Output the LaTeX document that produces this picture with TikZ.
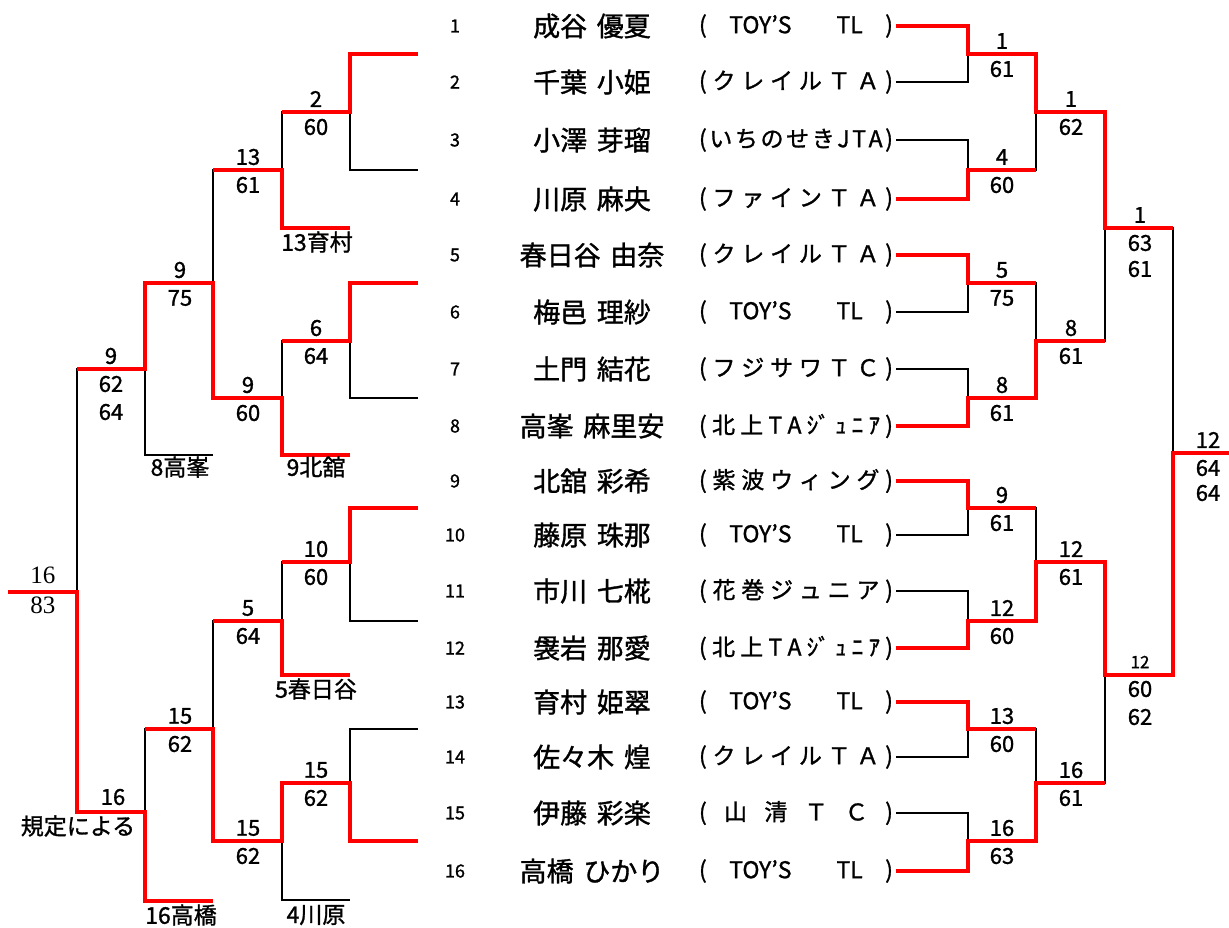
\documentclass[tikz,border=0pt]{standalone}
\usepackage{fontspec}
\setmainfont{Noto Sans CJK JP}[FakeBold=1.2]
\newfontfamily\namefont{Noto Sans CJK JP}[WordSpace=1.6, FakeBold=1.2]
\newfontfamily\serifnum{Liberation Serif}
\definecolor{DrawRed}{HTML}{FF0000}
\newcommand{\team}[1]{\makebox[194pt][s]{#1}}

\begin{document}
\begin{tikzpicture}[x=1pt, y=-1pt,
    loser/.style={black, line width=1.6pt},
    winner/.style={DrawRed, line width=3.6pt},
    seed/.style={font=\fontsize{18}{18}\selectfont, inner sep=0pt},
    player/.style={font=\namefont\fontsize{27}{27}\selectfont, inner sep=0pt},
    club/.style={font=\fontsize{23}{23}\selectfont, inner xsep=3pt, inner ysep=0pt},
    score/.style={font=\fontsize{22}{22}\selectfont, inner sep=0pt},
    tag/.style={font=\fontsize{23}{23}\selectfont, inner sep=0pt}]

    \useasboundingbox (0,0) rectangle (1229,927);

    % Players
    \foreach \i/\y/\name/\club in {
        1/26/成谷 優夏/{(\hfil TOY'S\hfil\hfil TL\hfil )},
        2/82/千葉 小姫/{(\hfil ク\hfil レ\hfil イ\hfil ル\hfil Ｔ\hfil Ａ\hfil )},
        3/140/小澤 芽瑠/{(\hfil い\hfil ち\hfil の\hfil せ\hfil き\hfil J\hfil T\hfil A\hfil )},
        4/199/川原 麻央/{(\hfil フ\hfil ァ\hfil イ\hfil ン\hfil Ｔ\hfil Ａ\hfil )},
        5/255/春日谷 由奈/{(\hfil ク\hfil レ\hfil イ\hfil ル\hfil Ｔ\hfil Ａ\hfil )},
        6/312/梅邑 理紗/{(\hfil TOY'S\hfil\hfil TL\hfil )},
        7/369/土門 結花/{(\hfil フ\hfil ジ\hfil サ\hfil ワ\hfil Ｔ\hfil Ｃ\hfil )},
        8/426/高峯 麻里安/{(\hfil 北\hfil 上\hfil T\hfil A\hfil ｼﾞ\hfil ｭ\hfil ﾆ\hfil ｱ\hfil )},
        9/481/北舘 彩希/{(\hfil 紫\hfil 波\hfil ウ\hfil ィ\hfil ン\hfil グ\hfil )},
        10/535/藤原 珠那/{(\hfil TOY'S\hfil\hfil TL\hfil )},
        11/591/市川 七椛/{(\hfil 花\hfil 巻\hfil ジ\hfil ュ\hfil ニ\hfil ア\hfil )},
        12/648/袰岩 那愛/{(\hfil 北\hfil 上\hfil T\hfil A\hfil ｼﾞ\hfil ｭ\hfil ﾆ\hfil ｱ\hfil )},
        13/702/育村 姫翠/{(\hfil TOY'S\hfil\hfil TL\hfil )},
        14/757/佐々木 煌/{(\hfil ク\hfil レ\hfil イ\hfil ル\hfil Ｔ\hfil Ａ\hfil )},
        15/813/伊藤 彩楽/{(\hfil 山\hfil 清\hfil Ｔ\hfil Ｃ\hfil )},
        16/871/高橋 ひかり/{(\hfil TOY'S\hfil\hfil TL\hfil )}} {
        \node[seed] (n\i) at (455,\y) {\i};
        \node[player] (p\i) at (592,\y) {\name};
        \node[club] (t\i) at (796,\y) {\team{\club}};
    }

    % Junctions, main draw
    \coordinate (m1) at (968,54);   \coordinate (m2) at (968,170);
    \coordinate (m3) at (968,283);  \coordinate (m4) at (968,398);
    \coordinate (m5) at (968,508);  \coordinate (m6) at (968,621);
    \coordinate (m7) at (968,729);  \coordinate (m8) at (968,841);
    \coordinate (q1) at (1036,112); \coordinate (q2) at (1036,341);
    \coordinate (q3) at (1036,562); \coordinate (q4) at (1036,783);
    \coordinate (s1) at (1105,228); \coordinate (s2) at (1105,675);
    \coordinate (f) at (1173,453);  \coordinate (champ) at (1229,453);

    % Junctions, back draw
    \coordinate (l1) at (418,54);   \coordinate (l2) at (418,170);
    \coordinate (l3) at (418,283);  \coordinate (l4) at (418,398);
    \coordinate (l5) at (418,508);  \coordinate (l6) at (418,621);
    \coordinate (l7) at (418,729);  \coordinate (l8) at (418,841);
    \coordinate (a1) at (350,112);  \coordinate (a2) at (350,341);
    \coordinate (a3) at (350,562);  \coordinate (a4) at (350,783);
    \coordinate (x13) at (350,228); \coordinate (x9) at (350,455);
    \coordinate (x5) at (350,675);  \coordinate (x4) at (350,900);
    \coordinate (b1) at (282,170);  \coordinate (b2) at (282,398);
    \coordinate (b3) at (282,621);  \coordinate (b4) at (282,841);
    \coordinate (c1) at (213,283);  \coordinate (c2) at (213,729);
    \coordinate (x8) at (213,455);  \coordinate (x16) at (213,901);
    \coordinate (d1) at (145,369);  \coordinate (d2) at (145,812);
    \coordinate (e) at (77,592);    \coordinate (lend) at (8,592);

    % Black bracket
    \foreach \c/\p in {t1.east/m1, t2.east/m1, t3.east/m2, t4.east/m2,
        t5.east/m3, t6.east/m3, t7.east/m4, t8.east/m4,
        t9.east/m5, t10.east/m5, t11.east/m6, t12.east/m6,
        t13.east/m7, t14.east/m7, t15.east/m8, t16.east/m8,
        m1/q1, m2/q1, m3/q2, m4/q2, m5/q3, m6/q3, m7/q4, m8/q4,
        q1/s1, q2/s1, q3/s2, q4/s2, s1/f, s2/f,
        l1/a1, l2/a1, l3/a2, l4/a2, l5/a3, l6/a3, l7/a4, l8/a4,
        a1/b1, x13/b1, a2/b2, x9/b2, a3/b3, x5/b3, a4/b4, x4/b4,
        b1/c1, b2/c1, b3/c2, b4/c2, c1/d1, x8/d1, c2/d2, x16/d2,
        d1/e, d2/e}
        \draw[loser] (\c) -| (\p);
    \draw[loser] (f) -- (champ);
    \draw[loser] (e) -- (lend);

    % Red winner paths, main draw
    \draw[winner] (t1.east) -| (m1) -| (q1) -| (s1) -- (s1 -| f);
    \draw[winner] (t4.east) -| (m2) -- (m2 -| q1);
    \draw[winner] (t5.east) -| (m3) -- (m3 -| q2);
    \draw[winner] (t8.east) -| (m4) -| (q2) -- (q2 -| s1);
    \draw[winner] (t9.east) -| (m5) -- (m5 -| q3);
    \draw[winner] (t12.east) -| (m6) -| (q3) -| (s2) -| (f) -- (champ);
    \draw[winner] (t13.east) -| (m7) -- (m7 -| q4);
    \draw[winner] (t16.east) -| (m8) -| (q4) -- (q4 -| s2);

    % Red winner paths, back draw
    \draw[winner] (l1) -| (a1) -- (a1 -| b1);
    \draw[winner] (l3) -| (a2) -- (a2 -| b2);
    \draw[winner] (l5) -| (a3) -- (a3 -| b3);
    \draw[winner] (l8) -| (a4) -| (b4) -| (c2) -- (c2 -| d2);
    \draw[winner] (x13) -| (b1) -- (b1 -| c1);
    \draw[winner] (x9) -| (b2) -| (c1) -| (d1) -- (d1 -| e);
    \draw[winner] (x5) -| (b3) -- (b3 -| c2);
    \draw[winner] (x16) -| (d2) -| (e) -- (lend);

    % Winners and scores
    \foreach \n/\x/\y/\w/\s in {m1/1002/54/1/61, m2/1002/170/4/60,
        m3/1002/283/5/75, m4/1002/398/8/61, m5/1002/508/9/61,
        m6/1002/621/12/60, m7/1002/729/13/60, m8/1002/841/16/63,
        q1/1071/112/1/62, q2/1071/341/8/61, q3/1071/562/12/61,
        q4/1071/783/16/61, s1/1140/228/1/63, f/1208/453/12/64,
        a1/316/112/2/60, a2/316/341/6/64, a3/316/562/10/60,
        a4/316/783/15/62, b1/248/170/13/61, b2/248/398/9/60,
        b3/248/621/5/64, b4/248/841/15/62, c1/180/283/9/75,
        c2/180/729/15/62, d1/111/369/9/62} {
        \node[score] (w\n) at (\x,\y-13) {\w};
        \node[score] (s\n) at (\x,\y+15) {\s};
    }
    \node[score] (r2s1) at (1140,269) {61};
    \node[score] (r2f) at (1208,493) {64};
    \node[score] (r2d1) at (111,412) {64};
    \node[score, font=\fontsize{17}{17}\selectfont] (ws2) at (1140,662) {12};
    \node[score] (ss2) at (1140,689) {60};
    \node[score] (r2s2) at (1140,717) {62};
    \node[score] (wd2) at (113,797) {16};
    \node[tag] (rule) at (78,826) {規定による};
    \node[score, font=\serifnum\fontsize{25}{25}\selectfont] (we) at (43,575) {16};
    \node[score, font=\serifnum\fontsize{25}{25}\selectfont] (se) at (43,605) {83};

    % Entries into the back draw
    \node[tag] (g13) at (317,242) {13育村};
    \node[tag] (g9) at (316,467) {9北舘};
    \node[tag] (g8) at (180,467) {8高峯};
    \node[tag] (g5) at (316,689) {5春日谷};
    \node[tag] (g16) at (181,915) {16高橋};
    \node[tag] (g4) at (316,915) {4川原};
\end{tikzpicture}
\end{document}
